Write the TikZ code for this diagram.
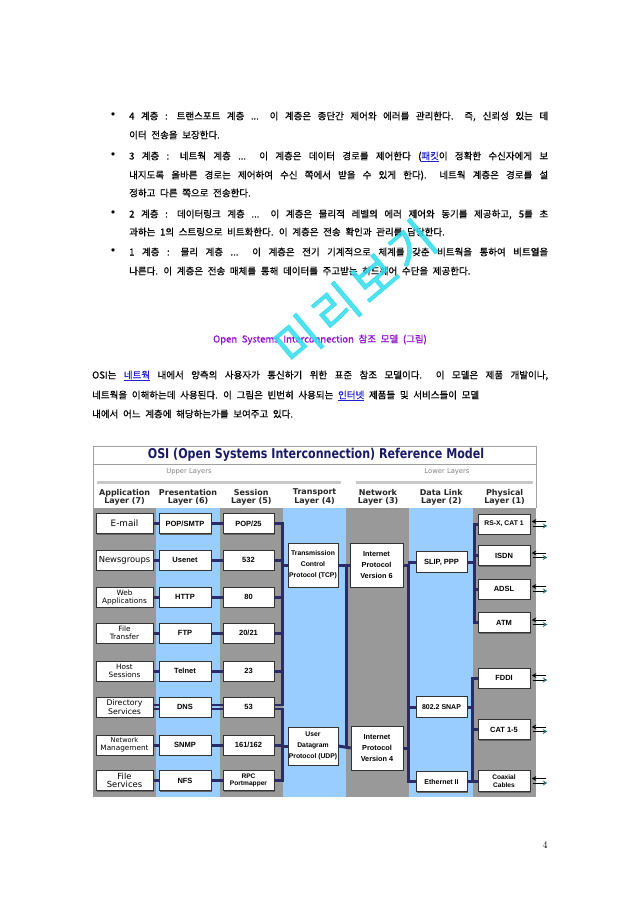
\documentclass[tikz,border=0pt]{standalone}
\usepackage{fontspec}
\usetikzlibrary{arrows.meta,shadows}
\newfontfamily\kr[WordSpace=2.2,FakeBold=0.6]{Noto Sans CJK KR}
\newfontfamily\krwm[FakeBold=1.5]{Noto Sans CJK KR}
\newfontfamily\dv{DejaVu Sans}
\newfontfamily\dvt[FakeStretch=0.82]{DejaVu Sans}
\newfontfamily\lib{Liberation Sans}
\definecolor{navy}{HTML}{2B2B66}
\definecolor{colgray}{HTML}{999999}
\definecolor{colblue}{HTML}{99CCFF}
\definecolor{titlenavy}{HTML}{1A1A66}
\definecolor{hdrgray}{HTML}{C8C8C8}
\definecolor{framegray}{HTML}{A0A0A0}
\definecolor{linkblue}{HTML}{2222CC}
\definecolor{purp}{HTML}{9010D0}
\definecolor{wmcyan}{HTML}{33DDEE}
\definecolor{arrteal}{HTML}{2F6F6F}
\newcommand\lnk[1]{\textcolor{linkblue}{\underline{#1}}}
\tikzset{
  txt/.style={anchor=west, inner sep=0pt, font=\kr\fontsize{9.5}{11}\selectfont, text height=8pt, text depth=1pt},
  bul/.style={anchor=center, inner sep=0pt, font=\dv\fontsize{11}{11}\selectfont},
  bx/.style={draw=black!80, fill=white, line width=0.6pt, inner sep=0pt, align=center,
    drop shadow={shadow xshift=1pt, shadow yshift=-1pt, fill=black!60, opacity=1}},
  appbox/.style={bx, minimum width=57pt, minimum height=20pt, font=\dv\fontsize{7.3}{8}\selectfont},
  bbox/.style={bx, font=\lib\bfseries\fontsize{7.5}{8}\selectfont},
  presbox/.style={bbox, minimum width=52pt, minimum height=20pt},
  sessbox/.style={bbox, minimum width=51pt, minimum height=20pt},
  physbox/.style={bbox, minimum width=52pt, minimum height=20pt},
  dlbox/.style={bbox, minimum width=51pt, minimum height=20.5pt},
  bigbox/.style={bx, font=\lib\bfseries\fontsize{6.8}{11}\selectfont},
  conn/.style={draw=navy, line width=3pt},
  connthin/.style={draw=navy, line width=1.5pt},
  hdr/.style={font=\dv\bfseries\fontsize{8}{8.3}\selectfont, align=center, inner sep=0pt, text=black!85},
  layertxt/.style={font=\dv\fontsize{6.8}{7}\selectfont, text=black!50, inner sep=0pt},
  hdrline/.style={draw=hdrgray, line width=3pt},
  arrk/.style={draw=black, line width=1pt, -{Stealth[length=4.5pt,width=5pt]}},
  arrt/.style={draw=black, line width=1pt, -{Stealth[length=4.5pt,width=5pt,color=arrteal]}},
  wmch/.style={font=\krwm\fontsize{48}{48}\selectfont, text=wmcyan, opacity=0.85, rotate=40, inner sep=0pt}
}
\begin{document}
\begin{tikzpicture}[x=1pt,y=-1pt]
\useasboundingbox (0,0) rectangle (640,905);
\fill[white] (0,0) rectangle (640,905);

% ---------- bullet list ----------
\node[bul] (d1) at (113,116) {•};
\node[txt] (l1) at (129,116) {\makebox[419pt][s]{4 계층 : 트랜스포트 계층 ... 이 계층은 종단간 제어와 에러를 관리한다. 즉, 신뢰성 있는 데}};
\node[txt] (l2) at (129,135) {이터 전송을 보장한다.};
\node[bul] (d2) at (113,156) {•};
\node[txt] (l3) at (129,156) {\makebox[419pt][s]{3 계층 : 네트웍 계층 ... 이 계층은 데이터 경로를 제어한다 (\lnk{패킷}이 정확한 수신자에게 보}};
\node[txt] (l4) at (129,175) {\makebox[419pt][s]{내지도록 올바른 경로는 제어하여 수신 쪽에서 받을 수 있게 한다). 네트웍 계층은 경로를 설}};
\node[txt] (l5) at (129,193) {정하고 다른 쪽으로 전송한다.};
\node[bul] (d3) at (113,214) {•};
\node[txt] (l6) at (129,214) {\makebox[419pt][s]{2 계층 : 데이터링크 계층 ... 이 계층은 물리적 레벨의 에러 제어와 동기를 제공하고, 5를 초}};
\node[txt] (l7) at (129,232) {과하는 1의 스트링으로 비트화한다. 이 계층은 전송 확인과 관리를 담당한다.};
\node[bul] (d4) at (113,252) {•};
\node[txt] (l8) at (129,252) {\makebox[419pt][s]{1 계층 : 물리 계층 ... 이 계층은 전기 기계적으로 체계를 갖춘 비트웍을 통하여 비트열을}};
\node[txt] (l9) at (129,271) {나른다. 이 계층은 전송 매체를 통해 데이터를 주고받는 하드웨어 수단을 제공한다.};

% ---------- caption ----------
\node[txt, anchor=center, text=purp] (cap) at (320,339) {Open Systems Interconnection 참조 모델 (그림)};

% ---------- paragraph ----------
\node[txt] (p1t) at (92,375) {\makebox[456pt][s]{OSI는 \lnk{네트웍} 내에서 양측의 사용자가 통신하기 위한 표준 참조 모델이다. 이 모델은 제품 개발이나,}};
\node[txt] (p2t) at (92,395) {네트웍을 이해하는데 사용된다. 이 그림은 빈번히 사용되는 \lnk{인터넷} 제품들 및 서비스들이 모델};
\node[txt] (p3t) at (92,414) {내에서 어느 계층에 해당하는가를 보여주고 있다.};

% ---------- page number ----------
\node[font=\fontsize{10}{12}\selectfont, inner sep=0pt] (pg) at (545,845) {4};

% ---------- diagram columns ----------
\foreach \i/\c in {0/colgray,1/colblue,2/colgray,3/colblue,4/colgray,5/colblue,6/colgray}
  \fill[\c] ({93+\i*63.29},508) rectangle ({93+(\i+1)*63.29},797);

% header
\fill[white] (93,446) rectangle (536,508);
\draw[framegray, line width=1pt] (93,508) -- (93,446) -- (536,446) -- (536,508);
\draw[framegray, line width=0.8pt] (93,464) -- (536,464);
\node[font=\dvt\bfseries\fontsize{13.5}{14}\selectfont, text=titlenavy, inner sep=0pt] (title) at (316,455) {OSI (Open Systems Interconnection) Reference Model};
\node[layertxt] (upper) at (189,472) {Upper Layers};
\node[layertxt] (lower) at (447,472) {Lower Layers};
\draw[hdrline] (97,482) -- (341,482);
\draw[hdrline] (356,482) -- (533,482);
\node[hdr] (h7) at (124.6,497) {Application\\Layer (7)};
\node[hdr] (h6) at (188,497) {Presentation\\Layer (6)};
\node[hdr] (h5) at (251.3,497) {Session\\Layer (5)};
\node[hdr] (h4) at (314.6,497) {Transport\\Layer (4)};
\node[hdr] (h3) at (378,497) {Network\\Layer (3)};
\node[hdr] (h2) at (441.3,497) {Data Link\\Layer (2)};
\node[hdr] (h1) at (504.6,497) {Physical\\Layer (1)};

% ---------- boxes ----------
\node[appbox, font=\dv\fontsize{8.8}{9}\selectfont] (a1) at (124.5,523.5) {E-mail};
\node[appbox, font=\dv\fontsize{8.4}{9}\selectfont] (a2) at (124.5,560) {Newsgroups};
\node[appbox] (a3) at (124.5,597) {Web\\Applications};
\node[appbox] (a4) at (124.5,633) {File\\Transfer};
\node[appbox] (a5) at (124.5,671) {Host\\Sessions};
\node[appbox, font=\dv\fontsize{7.8}{8.3}\selectfont] (a6) at (124.5,707) {Directory\\Services};
\node[appbox] (a7) at (124.5,745) {{\fontsize{6.6}{7}\selectfont Network}\\Management};
\node[appbox, font=\dv\fontsize{8.4}{8.6}\selectfont] (a8) at (124.5,780.5) {File\\Services};

\node[presbox] (p1) at (185,523.5) {POP/SMTP};
\node[presbox] (p2) at (185,560) {Usenet};
\node[presbox] (p3) at (185,597) {HTTP};
\node[presbox] (p4) at (185,633) {FTP};
\node[presbox] (p5) at (185,671) {Telnet};
\node[presbox] (p6) at (185,707) {DNS};
\node[presbox] (p7) at (185,745) {SNMP};
\node[presbox] (p8) at (185,780.5) {NFS};

\node[sessbox] (s1) at (248.5,523.5) {POP/25};
\node[sessbox] (s2) at (248.5,560) {532};
\node[sessbox] (s3) at (248.5,597) {80};
\node[sessbox] (s4) at (248.5,633) {20/21};
\node[sessbox] (s5) at (248.5,671) {23};
\node[sessbox] (s6) at (248.5,707) {53};
\node[sessbox] (s7) at (248.5,745) {161/162};
\node[sessbox, font=\lib\bfseries\fontsize{6.6}{7}\selectfont] (s8) at (248.5,780.5) {RPC\\Portmapper};

\node[bigbox, minimum width=50pt, minimum height=44pt] (tcp) at (313,565) {Transmission\\Control\\Protocol (TCP)};
\node[bigbox, minimum width=50pt, minimum height=38pt] (udp) at (313,746) {User\\Datagram\\Protocol (UDP)};
\node[bigbox, minimum width=53pt, minimum height=44pt, font=\lib\bfseries\fontsize{7.3}{11}\selectfont] (ip6) at (376.5,565) {Internet\\Protocol\\Version 6};
\node[bigbox, minimum width=52pt, minimum height=44pt, font=\lib\bfseries\fontsize{7.3}{11}\selectfont] (ip4) at (377,748) {Internet\\Protocol\\Version 4};

\node[dlbox] (slip) at (441.5,562) {SLIP, PPP};
\node[dlbox, font=\lib\bfseries\fontsize{7}{8}\selectfont] (snap) at (441.5,707) {802.2 SNAP};
\node[dlbox, font=\lib\bfseries\fontsize{7}{8}\selectfont] (eth) at (441.5,781.5) {Ethernet II};

\node[physbox, font=\lib\bfseries\fontsize{6.8}{8}\selectfont] (rs) at (504,524) {RS-X, CAT 1};
\node[physbox] (isdn) at (504,555.5) {ISDN};
\node[physbox] (adsl) at (504,589) {ADSL};
\node[physbox] (atm) at (504,622.5) {ATM};
\node[physbox] (fddi) at (504,678) {FDDI};
\node[physbox] (cat) at (504,729.5) {CAT 1-5};
\node[physbox, minimum height=21pt, font=\lib\bfseries\fontsize{6.6}{7.4}\selectfont] (coax) at (504,781) {Coaxial\\Cables};

% ---------- connectors ----------
\coordinate (tb1) at (282,523.5);
\coordinate (tb2) at (282,705);
\coordinate (tb3) at (282,709);
\coordinate (tb4) at (282,780.5);
\coordinate (xb) at (346,600);
\coordinate (nb) at (408,600);
\coordinate (pb) at (474,600);
\coordinate (pc) at (472,700);

\foreach \k in {1,2,3,4,5,7,8} {
  \draw[conn] (a\k.east) -- (p\k.west);
  \draw[conn] (p\k.east) -- (s\k.west);
}
\draw[connthin] ([yshift=2pt]a6.east) -- ([yshift=2pt]p6.west);
\draw[connthin] ([yshift=-2pt]a6.east) -- ([yshift=-2pt]p6.west);
\draw[connthin] ([yshift=2pt]p6.east) -- ([yshift=2pt]s6.west);
\draw[connthin] ([yshift=-2pt]p6.east) -- ([yshift=-2pt]s6.west);

\draw[conn] (s1.east) -- (tb1) -- (tb2);
\foreach \k in {2,3,4,5} \draw[conn] (s\k.east) -- (s\k.east -| tb1);
\draw[connthin] ([yshift=2pt]s6.east) -- ([xshift=1.5pt]tb2);
\draw[connthin] ([yshift=-2pt]s6.east) -- ([xshift=1.5pt]tb3);
\draw[conn] (tb3) -- (tb4) -- (s8.east);
\draw[conn] (s7.east) -- (s7.east -| tb1);
\draw[conn] (tcp.west) -- (tcp.west -| tb1);
\draw[conn] (udp.west) -- (udp.west -| tb1);

\draw[conn] (tcp.east) -- (ip6.west);
\draw[conn] (udp.east) -- (ip4.west);
\draw[conn] (tcp.east -| xb) -- (udp.east -| xb);

\draw[conn] (ip6.east) -- (ip6.east -| nb) |- (eth.west);
\draw[conn] (slip.west) -- (slip.west -| nb);
\draw[conn] (snap.west) -- (snap.west -| nb);
\draw[conn] (ip4.east) -- (ip4.east -| nb);

\draw[conn] (rs.west) -- (rs.west -| pb) |- (atm.west);
\draw[conn] (isdn.west) -- (isdn.west -| pb);
\draw[conn] (adsl.west) -- (adsl.west -| pb);
\draw[conn] (slip.east) -- (slip.east -| pb);

\draw[conn] (fddi.west) -- (fddi.west -| pc) |- (coax.west);
\draw[conn] (cat.west) -- (cat.west -| pc);
\draw[conn] (snap.east) -- (snap.east -| pc);
\draw[conn] (eth.east) -- (eth.east -| pc);

% ---------- physical arrows ----------
\foreach \b in {rs,isdn,adsl,atm,fddi,cat,coax} {
  \draw[arrk] ([xshift=16pt,yshift=2.5pt]\b.east) -- ([xshift=1.5pt,yshift=2.5pt]\b.east);
  \draw[arrt] ([xshift=2.5pt,yshift=-2pt]\b.east) -- ([xshift=17pt,yshift=-2pt]\b.east);
}

% ---------- watermark ----------
\node[wmch] (w1) at (298,340) {미};
\node[wmch] (w2) at (336,308) {리};
\node[wmch] (w3) at (374,277) {보};
\node[wmch] (w4) at (412,245) {기};
\end{tikzpicture}
\end{document}
